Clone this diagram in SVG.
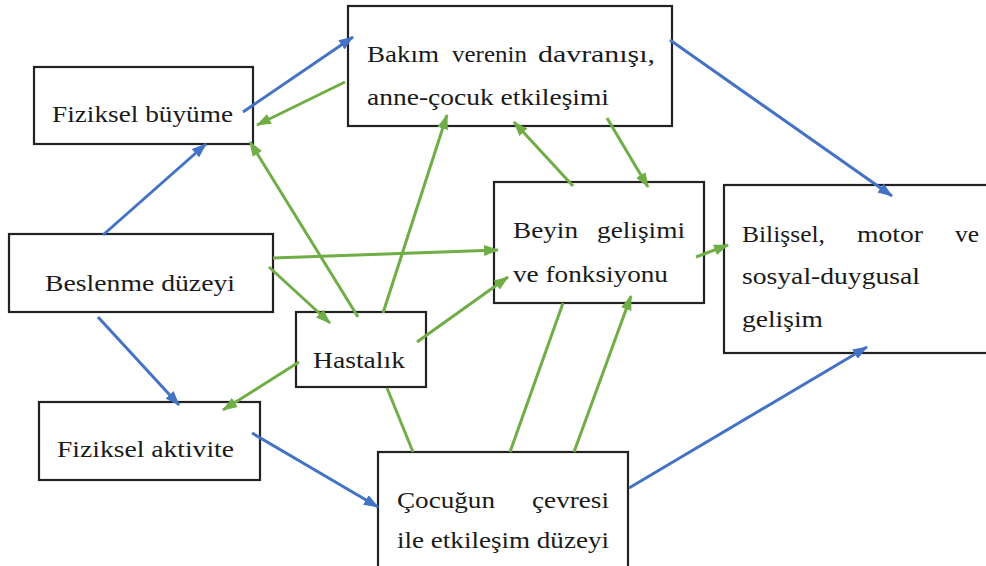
<svg xmlns="http://www.w3.org/2000/svg" width="986" height="566" viewBox="0 0 986 566">
<style>
.box{fill:#fff;stroke:#222;stroke-width:2.2}
.t{font-family:'Liberation Serif','Times New Roman','DejaVu Serif',serif;font-size:22.5px;fill:#1a1a1a}
.b{fill:none;stroke:#4472C4;stroke-width:3;marker-end:url(#ab)}
.g{fill:none;stroke:#70AD47;stroke-width:3;marker-end:url(#ag)}
.gl{fill:none;stroke:#70AD47;stroke-width:3}
</style>
<defs>
<marker id="ab" markerUnits="userSpaceOnUse" viewBox="0 0 15 11" refX="14" refY="5.5" markerWidth="15" markerHeight="11" orient="auto"><path d="M0,0 L15,5.5 L0,11 Z" fill="#4472C4"/></marker>
<marker id="ag" markerUnits="userSpaceOnUse" viewBox="0 0 15 11" refX="14" refY="5.5" markerWidth="15" markerHeight="11" orient="auto"><path d="M0,0 L15,5.5 L0,11 Z" fill="#70AD47"/></marker>
</defs>
<rect width="986" height="566" fill="#fff"/>
<g id="n-buyume"><rect class="box" x="34" y="67" width="219" height="77"/><text class="t" font-family="Liberation Serif, serif" x="52" y="122" textLength="181" lengthAdjust="spacingAndGlyphs">Fiziksel büyüme</text></g>
<g id="n-bakim"><rect class="box" x="348" y="6" width="324" height="120"/>
<text class="t" font-family="Liberation Serif, serif" x="367" y="62" textLength="72" lengthAdjust="spacingAndGlyphs">Bakım</text>
<text class="t" font-family="Liberation Serif, serif" x="452" y="62" textLength="75" lengthAdjust="spacingAndGlyphs">verenin</text>
<text class="t" font-family="Liberation Serif, serif" x="538" y="62" textLength="117" lengthAdjust="spacingAndGlyphs">davranışı,</text>
<text class="t" font-family="Liberation Serif, serif" x="367" y="105" textLength="242" lengthAdjust="spacingAndGlyphs">anne-çocuk etkileşimi</text></g>
<g id="n-beslenme"><rect class="box" x="9" y="234" width="264" height="78"/><text class="t" font-family="Liberation Serif, serif" x="45" y="291" textLength="190" lengthAdjust="spacingAndGlyphs">Beslenme düzeyi</text></g>
<g id="n-hastalik"><rect class="box" x="296" y="312" width="130" height="75"/><text class="t" font-family="Liberation Serif, serif" x="313" y="368" textLength="92" lengthAdjust="spacingAndGlyphs">Hastalık</text></g>
<g id="n-beyin"><rect class="box" x="494" y="182" width="210" height="121"/>
<text class="t" font-family="Liberation Serif, serif" x="513" y="238" textLength="65" lengthAdjust="spacingAndGlyphs">Beyin</text>
<text class="t" font-family="Liberation Serif, serif" x="597" y="238" textLength="88" lengthAdjust="spacingAndGlyphs">gelişimi</text>
<text class="t" font-family="Liberation Serif, serif" x="513" y="282" textLength="155" lengthAdjust="spacingAndGlyphs">ve fonksiyonu</text></g>
<g id="n-bilissel"><rect class="box" x="724" y="185" width="270" height="168"/>
<text class="t" font-family="Liberation Serif, serif" x="742" y="242" textLength="83" lengthAdjust="spacingAndGlyphs">Bilişsel,</text>
<text class="t" font-family="Liberation Serif, serif" x="857" y="242" textLength="66" lengthAdjust="spacingAndGlyphs">motor</text>
<text class="t" font-family="Liberation Serif, serif" x="955" y="242" textLength="24" lengthAdjust="spacingAndGlyphs">ve</text>
<text class="t" font-family="Liberation Serif, serif" x="742" y="284" textLength="178" lengthAdjust="spacingAndGlyphs">sosyal-duygusal</text>
<text class="t" font-family="Liberation Serif, serif" x="742" y="327" textLength="81" lengthAdjust="spacingAndGlyphs">gelişim</text></g>
<g id="n-aktivite"><rect class="box" x="39" y="402" width="221" height="78"/><text class="t" font-family="Liberation Serif, serif" x="57" y="457" textLength="177" lengthAdjust="spacingAndGlyphs">Fiziksel aktivite</text></g>
<g id="n-cocugun"><rect class="box" x="378" y="452" width="250" height="120"/>
<text class="t" font-family="Liberation Serif, serif" x="397" y="508" textLength="98" lengthAdjust="spacingAndGlyphs">Çocuğun</text>
<text class="t" font-family="Liberation Serif, serif" x="532" y="508" textLength="77" lengthAdjust="spacingAndGlyphs">çevresi</text>
<text class="t" font-family="Liberation Serif, serif" x="397" y="548" textLength="212" lengthAdjust="spacingAndGlyphs">ile etkileşim düzeyi</text></g>
<g id="connectors">
<line class="b" x1="243" y1="112" x2="353" y2="37"/>
<line class="b" x1="670" y1="40" x2="892" y2="196"/>
<line class="b" x1="103" y1="235" x2="206" y2="144"/>
<line class="b" x1="98" y1="317" x2="179" y2="405"/>
<line class="b" x1="252" y1="433" x2="378" y2="507"/>
<line class="b" x1="629" y1="488" x2="867" y2="347"/>
<line class="g" x1="345" y1="82" x2="257" y2="125"/>
<line class="g" x1="358" y1="317" x2="250" y2="142"/>
<line class="g" x1="383" y1="313" x2="447" y2="115"/>
<line class="g" x1="573" y1="186" x2="514" y2="122"/>
<line class="g" x1="607" y1="118" x2="648" y2="187"/>
<line class="g" x1="273" y1="258" x2="498" y2="250"/>
<line class="g" x1="269" y1="267" x2="330" y2="323"/>
<line class="g" x1="417" y1="342" x2="508" y2="277"/>
<line class="g" x1="299" y1="362" x2="223" y2="410"/>
<line class="g" x1="696" y1="257" x2="728" y2="245"/>
<line class="gl" x1="387" y1="388" x2="413" y2="452"/>
<line class="gl" x1="510" y1="452" x2="563" y2="303"/>
<line class="g" x1="574" y1="452" x2="631" y2="296"/>
</g>
</svg>
